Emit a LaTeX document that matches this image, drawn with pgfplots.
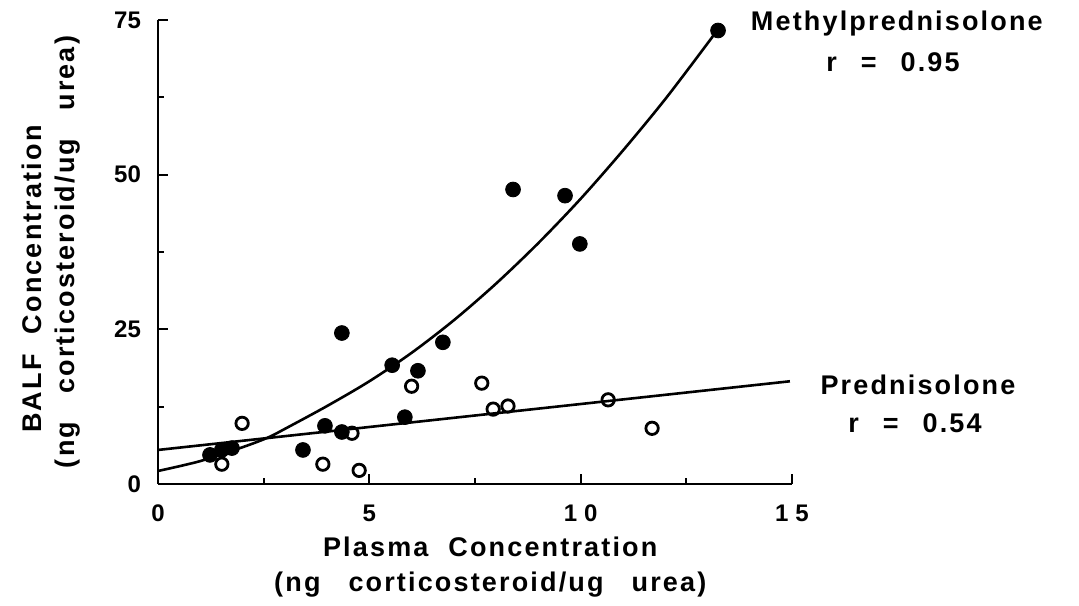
\documentclass[border=0pt]{standalone}
\usepackage{fontspec}
\setmainfont{Liberation Sans}
\newfontfamily\lbl{Liberation Sans}[LetterSpace=8]
\usepackage{pgfplots}
\pgfplotsset{compat=1.18}
\pgfplotstableread{
x y
1.23 4.7
1.51 5.5
1.75 5.8
3.43 5.5
3.95 9.4
4.35 24.4
4.35 8.4
5.54 19.2
5.84 10.8
6.15 18.3
6.74 22.9
8.40 47.6
9.63 46.6
9.98 38.8
13.25 73.3
}\methyl
\pgfplotstableread{
x y
1.51 3.2
1.99 9.8
3.90 3.2
4.59 8.2
4.76 2.2
6.00 15.8
7.66 16.3
7.93 12.1
8.28 12.6
10.65 13.6
11.69 9.0
}\pred
\pgfplotstableread{
x y
0 2.1
1 3.7
2 5.94
2.6 7.5
3 8.9
4 12.6
5 16.6
6 21.2
7 26.47
8 32.4
9 38.95
10 46.1
11 53.9
12 62.2
13 71.2
13.3 74.0
}\methylfit
\pgfplotstableread{
x y
0 5.5
14.95 16.6
}\predfit
\begin{document}
\begin{tikzpicture}
\begin{axis}[
  scale only axis, width=317pt, height=232pt,
  xmin=0, xmax=15, ymin=0, ymax=75,
  axis lines=left, axis line style={-, line width=1.3pt},
  xtick={0,5,10,15}, xticklabels={0,5,1\hspace{3.5pt}0,1\hspace{3.5pt}5},
  minor xtick={2.5,7.5,12.5},
  ytick={0,25,50,75}, minor ytick={12.5,37.5,62.5},
  tick align=inside, major tick length=5pt, minor tick length=3pt,
  tick style={line width=1.1pt, black},
  /pgf/number format/assume math mode=true,
  ticklabel style={font=\bfseries\fontsize{12}{14}\selectfont},
  yticklabel style={xshift=-5pt},
  xticklabel style={yshift=-7pt},
  clip=false,
  xlabel={Plasma\hspace{10pt}Concentration\\(ng\hspace{14pt}corticosteroid/ug\hspace{14pt}urea)},
  xlabel style={align=center, font=\lbl\bfseries\fontsize{13.5}{17.5}\selectfont, at={(rel axis cs:0.524,-0.179)}, anchor=center},
  ylabel={BALF\hspace{10pt}Concentration\hspace*{27pt}\\(ng\hspace{14pt}corticosteroid/ug\hspace{14pt}urea)},
  ylabel style={align=center, font=\lbl\bfseries\fontsize{13.5}{16.5}\selectfont, at={(rel axis cs:-0.168,0.5)}, anchor=center, rotate=0},
]
\path (axis cs:-3.738,-19.72) rectangle (axis cs:21.79,78.23);
\addplot[black, line width=1.3pt, smooth] table {\methylfit};
\addplot[black, line width=1.3pt] table {\predfit};
\addplot[only marks, mark=*, mark size=3.7pt, black] table {\methyl};
\addplot[only marks, mark=o, mark size=3.1pt, black, mark options={line width=1.4pt, fill=white}] table {\pred};
\node[font=\lbl\bfseries\fontsize{13.5}{15}\selectfont] at (axis cs:17.48,74.5) {Methylprednisolone};
\node[font=\lbl\bfseries\fontsize{13.5}{15}\selectfont] at (axis cs:17.39,68.2) {r\hspace{12pt}=\hspace{12pt}0.95};
\node[font=\lbl\bfseries\fontsize{13.5}{15}\selectfont] at (axis cs:17.98,16.0) {Prednisolone};
\node[font=\lbl\bfseries\fontsize{13.5}{15}\selectfont] at (axis cs:17.91,9.86) {r\hspace{12pt}=\hspace{12pt}0.54};
\end{axis}
\end{tikzpicture}
\end{document}
